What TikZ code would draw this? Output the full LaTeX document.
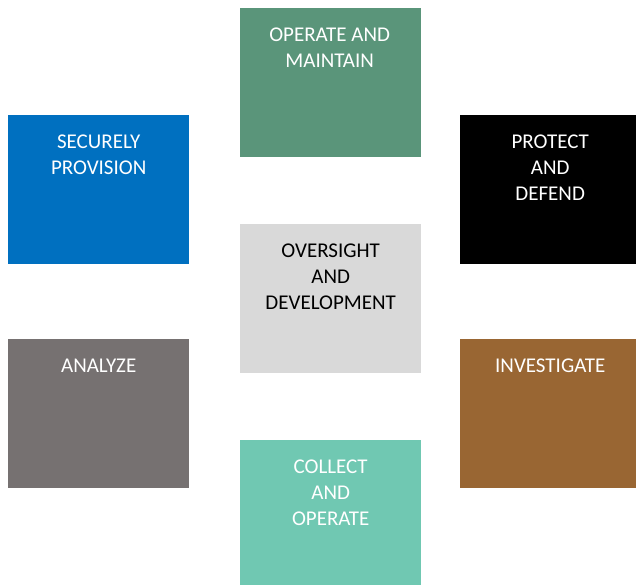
\documentclass[tikz,border=0pt]{standalone}
\usepackage{fontspec}
\setmainfont{Carlito}
\definecolor{cgreen}{HTML}{5A957A}
\definecolor{cblue}{HTML}{0070C0}
\definecolor{cgray}{HTML}{767171}
\definecolor{cbrown}{HTML}{996633}
\definecolor{cteal}{HTML}{70C8B2}
\definecolor{clight}{HTML}{D9D9D9}
\begin{document}
\begin{tikzpicture}[x=1pt,y=-1pt,
  box/.style={rectangle,draw=none,inner sep=0pt,anchor=north west},
  lbl/.style={anchor=north,inner sep=0pt,align=center,text=white,
    font=\fontsize{21}{26}\selectfont}]
\useasboundingbox (0,0) rectangle (636,585);
% boxes
\node[box,fill=cgreen,minimum width=181pt,minimum height=149pt] (om) at (240,8) {};
\node[box,fill=cblue,minimum width=181pt,minimum height=149pt] (sp) at (8,115) {};
\node[box,fill=black,minimum width=176pt,minimum height=149pt] (pd) at (460,115) {};
\node[box,fill=clight,minimum width=181pt,minimum height=149pt] (od) at (240,224) {};
\node[box,fill=cgray,minimum width=181pt,minimum height=149pt] (an) at (8,339) {};
\node[box,fill=cbrown,minimum width=176pt,minimum height=149pt] (in) at (460,339) {};
\node[box,fill=cteal,minimum width=181pt,minimum height=146pt] (co) at (240,440) {};
% labels
\node[lbl] (tom) at ([yshift=-20pt,xshift=-1pt]om.north) {OPERATE AND\\MAINTAIN};
\node[lbl] (tsp) at ([yshift=-20pt]sp.north) {SECURELY\\PROVISION};
\node[lbl] (tpd) at ([yshift=-20pt,xshift=2pt]pd.north) {PROTECT\\AND\\DEFEND};
\node[lbl,text=black] (tod) at ([yshift=-20pt]od.north) {OVERSIGHT\\AND\\DEVELOPMENT};
\node[lbl] (tan) at ([yshift=-20pt]an.north) {ANALYZE};
\node[lbl] (tin) at ([yshift=-20pt,xshift=2pt]in.north) {INVESTIGATE};
\node[lbl] (tco) at ([yshift=-20pt]co.north) {COLLECT\\AND\\OPERATE};
\end{tikzpicture}
\end{document}
